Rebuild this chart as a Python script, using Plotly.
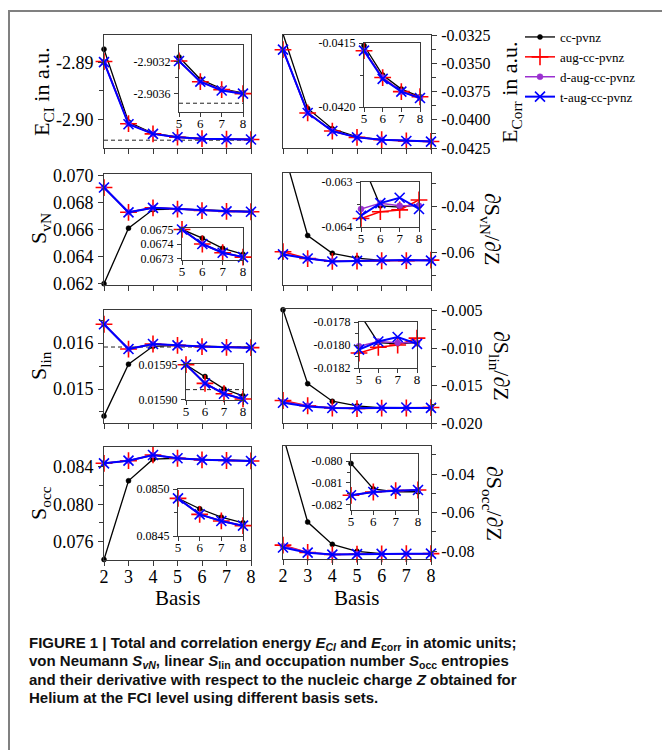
import plotly.graph_objects as go

W, H = 662, 750
SERIF = "Liberation Serif, Times New Roman, serif"
CAPFONT = "Liberation Sans, Arial, sans-serif"

# ---------------- data ----------------
basis = [2, 3, 4, 5, 6, 7, 8]
inset_basis = [5, 6, 7, 8]
series_names = ["cc-pvnz", "aug-cc-pvnz", "d-aug-cc-pvnz", "t-aug-cc-pvnz"]

E_CI_cc = [-2.8876, -2.9005, -2.9025, -2.90314, -2.90342, -2.90354, -2.90359]
E_CI_aug = [-2.8898, -2.9008, -2.9026, -2.90319, -2.90345, -2.90355, -2.90360]
E_CI_daug = [-2.8899, -2.9008, -2.9026, -2.90319, -2.90345, -2.90355, -2.90360]
E_CI_taug = [-2.8899, -2.9009, -2.9026, -2.90319, -2.90345, -2.90356, -2.90360]

E_corr_cc = [-0.0324, -0.0390, -0.0408, -0.04152, -0.04175, -0.04186, -0.04192]
E_corr_aug = [-0.0338, -0.0394, -0.0410, -0.04156, -0.04177, -0.04188, -0.04192]
E_corr_daug = [-0.0338, -0.0394, -0.0410, -0.04156, -0.04177, -0.04188, -0.04193]
E_corr_taug = [-0.0338, -0.0394, -0.0410, -0.04156, -0.04178, -0.04188, -0.04193]

S_vN_cc = [0.0620, 0.0661, 0.06747, 0.06750, 0.06744, 0.06737, 0.06733]
S_vN_aug = [0.0691, 0.06727, 0.06760, 0.06750, 0.06740, 0.06734, 0.06731]
S_vN_daug = [0.0691, 0.06727, 0.06760, 0.06750, 0.06740, 0.06734, 0.06731]
S_vN_taug = [0.0691, 0.06727, 0.06760, 0.06750, 0.06740, 0.06734, 0.06731]

dS_vN_cc = [-0.0145, -0.0526, -0.0604, -0.0625, -0.06353, -0.06356, -0.06351]
dS_vN_aug = [-0.0597, -0.0627, -0.0639, -0.06381, -0.06366, -0.06362, -0.06340]
dS_vN_daug = [-0.0607, -0.0627, -0.0639, -0.06360, -0.06347, -0.06353, -0.06353]
dS_vN_taug = [-0.0609, -0.0627, -0.0640, -0.06375, -0.06347, -0.06335, -0.06360]

S_lin_cc = [0.01441, 0.01554, 0.01593, 0.015950, 0.015933, 0.015915, 0.015905]
S_lin_aug = [0.01641, 0.01587, 0.01598, 0.015950, 0.015923, 0.015908, 0.0159005]
S_lin_daug = [0.01641, 0.01587, 0.01598, 0.015950, 0.015923, 0.015908, 0.0159005]
S_lin_taug = [0.01641, 0.01587, 0.01598, 0.015950, 0.015923, 0.015908, 0.0159005]

dS_lin_cc = [-0.0049, -0.01475, -0.0171, -0.01772, -0.01798, -0.01799, -0.01798]
dS_lin_aug = [-0.0170, -0.0177, -0.0180, -0.01807, -0.01802, -0.01800, -0.01794]
dS_lin_daug = [-0.0172, -0.0177, -0.0180, -0.01801, -0.01797, -0.01798, -0.01798]
dS_lin_taug = [-0.0173, -0.0178, -0.0180, -0.01804, -0.01797, -0.01793, -0.01799]

S_occ_cc = [0.0741, 0.0825, 0.0848, 0.08490, 0.08479, 0.08470, 0.08464]
S_occ_aug = [0.08436, 0.08464, 0.08525, 0.08490, 0.08473, 0.08466, 0.08461]
S_occ_daug = [0.08436, 0.08464, 0.08525, 0.08490, 0.08473, 0.08466, 0.08461]
S_occ_taug = [0.08436, 0.08464, 0.08525, 0.08490, 0.08473, 0.08466, 0.08461]

dS_occ_cc = [-0.0200, -0.0649, -0.0765, -0.08011, -0.08127, -0.08140, -0.08140]
dS_occ_aug = [-0.0769, -0.0807, -0.0818, -0.08156, -0.08141, -0.08135, -0.08132]
dS_occ_daug = [-0.0775, -0.0807, -0.0818, -0.08156, -0.08141, -0.08135, -0.08132]
dS_occ_taug = [-0.0781, -0.0808, -0.0818, -0.08156, -0.08141, -0.08135, -0.08132]

E_EXACT = -2.90372
S_LIN_EXACT = 0.015914

# tick labels
main_x_ticks = [2, 3, 4, 5, 6, 7, 8]
inset_x_ticks = [5, 6, 7, 8]

# ---------------- styles ----------------
COLORS = ["#000000", "#ff0000", "#9a30d0", "#0000ff"]
SYMBOLS = ["circle", "cross-thin", "circle", "x-thin"]
MSIZE = [5, 12, 6, 10]
LWIDTH = [1.3, 1.5, 1.5, 2.0]
AXC = "#3a3a3a"


def px_x(a, b):
    return [a / W, b / W]


def px_y(top, bottom):
    return [1 - bottom / H, 1 - top / H]


panels = [
    # row 1 left
    dict(data=[E_CI_cc, E_CI_aug, E_CI_daug, E_CI_taug], side="left",
         box=(104, 251, 35, 148), yr=[-2.9051, -2.8851],
         yt=[-2.89, -2.90], ytt=["-2.89", "-2.90"], ym=[-2.895],
         ibox=(179, 243, 45, 112), iyr=[-2.90383, -2.90299],
         iyt=[-2.9032, -2.9036], iytt=["-2.9032", "-2.9036"], iym=[-2.9034],
         exact=E_EXACT, xlabels=False,
         title="E<sub>CI</sub> in a.u.", tpos=(43, 92), tang=-90),
    # row 1 right
    dict(data=[E_corr_cc, E_corr_aug, E_corr_daug, E_corr_taug], side="right",
         box=(283, 431, 35, 148), yr=[-0.0425, -0.0325],
         yt=[-0.0325, -0.035, -0.0375, -0.04, -0.0425],
         ytt=["-0.0325", "-0.0350", "-0.0375", "-0.0400", "-0.0425"],
         ym=[-0.03375, -0.03625, -0.03875, -0.04125],
         ibox=(364, 420, 43, 107), iyr=[-0.0420, -0.0415],
         iyt=[-0.0415, -0.0420], iytt=["-0.0415", "-0.0420"], iym=[-0.04175],
         exact=None, xlabels=False,
         title="E<sub>Corr</sub> in a.u.", tpos=(511, 92), tang=-90),
    # row 2 left
    dict(data=[S_vN_cc, S_vN_aug, S_vN_daug, S_vN_taug], side="left",
         box=(104, 251, 174, 285), yr=[0.0619, 0.0701],
         yt=[0.062, 0.064, 0.066, 0.068, 0.070],
         ytt=["0.062", "0.064", "0.066", "0.068", "0.070"], ym=[],
         ibox=(182, 243, 228, 260), iyr=[0.06729, 0.06751],
         iyt=[0.0675, 0.0674, 0.0673], iytt=["0.0675", "0.0674", "0.0673"], iym=[],
         exact=None, xlabels=False,
         title="S<sub>vN</sub>", tpos=(40, 229), tang=-90),
    # row 2 right
    dict(data=[dS_vN_cc, dS_vN_aug, dS_vN_daug, dS_vN_taug], side="right",
         box=(283, 431, 173, 285), yr=[-0.0743, -0.0252],
         yt=[-0.04, -0.06], ytt=["-0.04", "-0.06"], ym=[-0.03, -0.05, -0.07],
         ibox=(361, 419, 182, 227), iyr=[-0.064, -0.063],
         iyt=[-0.063, -0.064], iytt=["-0.063", "-0.064"], iym=[-0.0635],
         exact=None, xlabels=False,
         title="∂S<sub>vN</sub>/∂Z", tpos=(491, 229), tang=90),
    # row 3 left
    dict(data=[S_lin_cc, S_lin_aug, S_lin_daug, S_lin_taug], side="left",
         box=(104, 251, 310, 423), yr=[0.01426, 0.01672],
         yt=[0.015, 0.016], ytt=["0.015", "0.016"], ym=[0.0145, 0.0155, 0.0165],
         ibox=(186, 243, 364, 400), iyr=[0.015899, 0.015951],
         iyt=[0.01595, 0.01590], iytt=["0.01595", "0.01590"], iym=[],
         exact=S_LIN_EXACT, xlabels=False,
         title="S<sub>lin</sub>", tpos=(40, 366), tang=-90),
    # row 3 right
    dict(data=[dS_lin_cc, dS_lin_aug, dS_lin_daug, dS_lin_taug], side="right",
         box=(283, 431, 309, 423), yr=[-0.020, -0.0048],
         yt=[-0.005, -0.010, -0.015, -0.020],
         ytt=["-0.005", "-0.010", "-0.015", "-0.020"],
         ym=[-0.0075, -0.0125, -0.0175],
         ibox=(359, 417, 322, 368), iyr=[-0.0182, -0.0178],
         iyt=[-0.0178, -0.0180, -0.0182], iytt=["-0.0178", "-0.0180", "-0.0182"],
         iym=[-0.0179, -0.0181],
         exact=None, xlabels=False,
         title="∂S<sub>lin</sub>/∂Z", tpos=(500, 366), tang=90),
    # row 4 left
    dict(data=[S_occ_cc, S_occ_aug, S_occ_daug, S_occ_taug], side="left",
         box=(104, 251, 447, 560), yr=[0.07405, 0.0861],
         yt=[0.076, 0.080, 0.084], ytt=["0.076", "0.080", "0.084"],
         ym=[0.078, 0.082],
         ibox=(178, 243, 489, 536), iyr=[0.0845, 0.0850],
         iyt=[0.0850, 0.0845], iytt=["0.0850", "0.0845"], iym=[0.08475],
         exact=None, xlabels=True,
         title="S<sub>occ</sub>", tpos=(40, 503), tang=-90),
    # row 4 right
    dict(data=[dS_occ_cc, dS_occ_aug, dS_occ_daug, dS_occ_taug], side="right",
         box=(283, 431, 446, 559), yr=[-0.0841, -0.0254],
         yt=[-0.04, -0.06, -0.08], ytt=["-0.04", "-0.06", "-0.08"],
         ym=[-0.03, -0.05, -0.07],
         ibox=(351, 418, 454, 510), iyr=[-0.08223, -0.07968],
         iyt=[-0.080, -0.081, -0.082], iytt=["-0.080", "-0.081", "-0.082"],
         iym=[-0.0805, -0.0815],
         exact=None, xlabels=True,
         title="∂S<sub>occ</sub>/∂Z", tpos=(493, 503), tang=90),
]

fig = go.Figure()
layout = {}
shapes = []
annotations = []


def axis_common(fontsize, ticklen, standoff):
    return dict(ticks="outside", ticklen=ticklen, tickwidth=1, tickcolor=AXC,
                showline=True, linecolor=AXC, linewidth=1, mirror=True,
                showgrid=False, zeroline=False, fixedrange=True, automargin=False,
                tickfont=dict(family=SERIF, size=fontsize, color="black"),
                ticklabelstandoff=standoff)


def add_subplot(n, box, xr, xt, show_xlab, yr, yt, ytt, ym, side, xfont, yfont, tl,
                series, xs, exact, legend):
    xa = "xaxis" if n == 1 else f"xaxis{n}"
    ya = "yaxis" if n == 1 else f"yaxis{n}"
    xid = "x" if n == 1 else f"x{n}"
    yid = "y" if n == 1 else f"y{n}"
    x0, x1, y0, y1 = box
    xd = axis_common(xfont, tl, -5)
    xd.update(domain=px_x(x0, x1), range=xr, anchor=yid, tickmode="array",
              tickvals=xt, ticktext=[str(v) for v in xt], showticklabels=show_xlab)
    yd = axis_common(yfont, tl, 1)
    yd.update(domain=px_y(y0, y1), range=yr, anchor=xid, side=side, tickmode="array",
              tickvals=yt, ticktext=ytt)
    if ym:
        yd["minor"] = dict(tickmode="array", tickvals=ym, ticks="outside",
                           ticklen=tl - 1, tickwidth=1, tickcolor=AXC, showgrid=False)
    layout[xa] = xd
    layout[ya] = yd
    if exact is not None:
        shapes.append(dict(type="line", xref=f"{xid} domain", x0=0, x1=1,
                           yref=yid, y0=exact, y1=exact,
                           line=dict(color="#222222", width=1, dash="4px,3px"),
                           layer="below"))
    for i, vals in enumerate(series):
        inside = all(yr[0] <= v <= yr[1] for v in vals)
        fig.add_trace(go.Scatter(
            x=xs, y=vals, xaxis=xid, yaxis=yid, mode="lines+markers",
            name=series_names[i], legendgroup=series_names[i], showlegend=legend,
            line=dict(color=COLORS[i], width=LWIDTH[i]),
            marker=dict(symbol=SYMBOLS[i], size=MSIZE[i], color=COLORS[i],
                        line=dict(color=COLORS[i], width=1.6 if i in (1, 3) else 0.5)),
            cliponaxis=not inside, hoverinfo="skip"))


n = 1
for pi, p in enumerate(panels):
    add_subplot(n, p["box"], [2, 8], main_x_ticks, p["xlabels"], p["yr"], p["yt"],
                p["ytt"], p["ym"], p["side"], 18, 18 if p["side"] == "left" else 16, 5,
                p["data"], basis, p["exact"], legend=(pi == 0))
    n += 1
    sub = [vals[3:] for vals in p["data"]]
    add_subplot(n, p["ibox"], [5, 8], inset_x_ticks, True, p["iyr"], p["iyt"],
                p["iytt"], p["iym"], "left", 13, 12, 4,
                sub, inset_basis, p["exact"], legend=False)
    n += 1
    tx, ty = p["tpos"]
    annotations.append(dict(text=p["title"], x=tx / W, y=1 - ty / H, xref="paper",
                            yref="paper", showarrow=False, textangle=p["tang"],
                            xanchor="center", yanchor="middle",
                            font=dict(family=SERIF, size=22, color="black")))

# x titles
for cx in [(104 + 251) / 2, (283 + 431) / 2]:
    annotations.append(dict(text="Basis", x=cx / W, y=1 - 598 / H, xref="paper",
                            yref="paper", showarrow=False, xanchor="center",
                            yanchor="middle",
                            font=dict(family=SERIF, size=21, color="black")))

# caption
caption_lines = [
    "<b>FIGURE 1 | Total and correlation energy <i>E<sub>CI</sub></i> and <i>E</i><sub>corr</sub> in atomic units;</b>",
    "<b>von Neumann <i>S<sub>vN</sub></i>, linear <i>S</i><sub>lin</sub> and occupation number <i>S</i><sub>occ</sub> entropies</b>",
    "<b>and their derivative with respect to the nucleic charge <i>Z</i> obtained for</b>",
    "<b>Helium at the FCI level using different basis sets.</b>",
]
for k, line in enumerate(caption_lines):
    annotations.append(dict(text=line, x=27 / W, y=1 - (643 + 18.2 * k) / H,
                            xref="paper", yref="paper", showarrow=False,
                            xanchor="left", yanchor="middle", align="left",
                            font=dict(family=CAPFONT, size=15, color="#111111")))

# outer frame
shapes.append(dict(type="rect", xref="paper", yref="paper",
                   x0=9 / W, x1=1.05, y0=-0.05, y1=1 - 11 / H,
                   line=dict(color="#808080", width=2), fillcolor="rgba(0,0,0,0)",
                   layer="below"))

layout.update(
    width=W, height=H, margin=dict(l=0, r=0, t=0, b=0),
    paper_bgcolor="white", plot_bgcolor="rgba(0,0,0,0)",
    font=dict(family=SERIF, color="black"),
    shapes=shapes, annotations=annotations,
    showlegend=True,
    legend=dict(x=520 / W, y=1 - 22 / H, xanchor="left", yanchor="top",
                bgcolor="rgba(0,0,0,0)", font=dict(family=SERIF, size=13),
                itemwidth=30, tracegroupgap=0),
)
fig.update_layout(**layout)
fig.write_html("out.html")
